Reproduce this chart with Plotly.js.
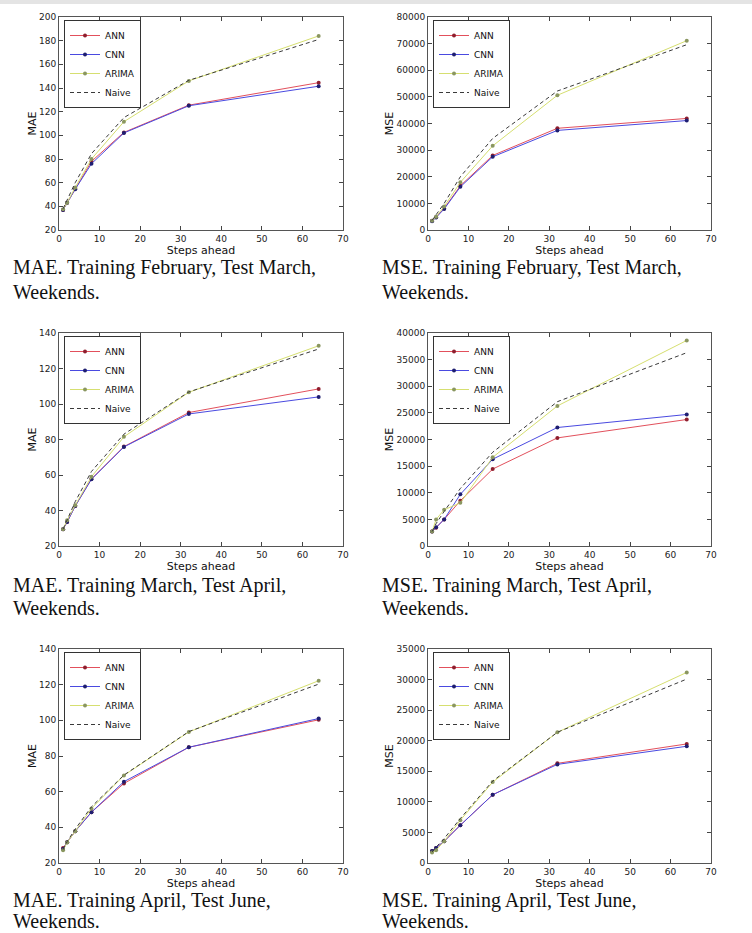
<!DOCTYPE html>
<html>
<head>
<meta charset="utf-8">
<script src="https://cdn.plot.ly/plotly-3.0.1.min.js"></script>
<style>
  html, body { margin: 0; padding: 0; background: #fff; }
  #plot { width: 752px; height: 933px; }
</style>
</head>
<body>
<div id="plot"></div>
<script>
// forecast horizons (x axis)
const steps = [1, 2, 4, 8, 16, 32, 64];
const seriesNames = ['ANN', 'CNN', 'ARIMA', 'Naive'];

// MAE, training February, test March
const maeFebAnn = [37, 43, 55, 78, 102.5, 125.5, 144.5];
const maeFebCnn = [37, 43, 54.5, 76, 102, 125, 141.5];
const maeFebArima = [37.5, 43, 56, 80, 111.5, 146, 184];
const maeFebNaive = [38, 45, 60, 84.5, 115, 146.5, 181];

// MSE, training February, test March
const mseFebAnn = [3500, 4800, 8100, 16600, 28000, 38200, 41900];
const mseFebCnn = [3300, 4700, 7900, 16200, 27500, 37400, 41100];
const mseFebArima = [3500, 5000, 8800, 17900, 31600, 50600, 71100];
const mseFebNaive = [3600, 5600, 10000, 20000, 34400, 52200, 69600];

// MAE, training March, test April
const maeMarAnn = [29.5, 33.5, 42.5, 57.8, 76, 95.2, 108.5];
const maeMarCnn = [29.5, 33.5, 42.5, 57.6, 75.8, 94.4, 104];
const maeMarArima = [29.5, 34.5, 43, 59, 81.5, 106.6, 132.8];
const maeMarNaive = [29.5, 35, 45, 62, 83, 106.8, 131];

// MSE, training March, test April
const mseMarAnn = [2700, 3450, 5000, 8500, 14450, 20300, 23750];
const mseMarCnn = [2700, 3500, 5000, 9700, 16300, 22250, 24700];
const mseMarArima = [2700, 5000, 6800, 8100, 16650, 26300, 38600];
const mseMarNaive = [2700, 4200, 6500, 10800, 17600, 27100, 36300];

// MAE, training April, test June
const maeAprAnn = [28.4, 31.6, 37.8, 48.5, 64.6, 84.9, 100.3];
const maeAprCnn = [27.9, 31.6, 37.8, 48.5, 65.6, 84.9, 101];
const maeAprArima = [27.1, 31.5, 37.8, 50.6, 69.1, 93.5, 122.2];
const maeAprNaive = [27.5, 32, 39, 51.5, 69.3, 93.7, 120.3];

// MSE, training April, test June
const mseAprAnn = [1970, 2460, 3550, 6180, 11160, 16300, 19470];
const mseAprCnn = [1970, 2460, 3550, 6180, 11160, 16130, 19090];
const mseAprArima = [1700, 2080, 3550, 7000, 13230, 21380, 31170];
const mseAprNaive = [1800, 2600, 4000, 7270, 13400, 21380, 30080];

const captionLines = [
  ['MAE. Training February, Test March,', 'Weekends.'],
  ['MSE. Training February, Test March,', 'Weekends.'],
  ['MAE. Training March, Test April,', 'Weekends.'],
  ['MSE. Training March, Test April,', 'Weekends.'],
  ['MAE. Training April, Test June,', 'Weekends.'],
  ['MSE. Training April, Test June,', 'Weekends.'],
];
const yTitles = ['MAE', 'MSE', 'MAE', 'MSE', 'MAE', 'MSE'];
const yRanges = [[20, 200], [0, 80000], [20, 140], [0, 40000], [20, 140], [0, 35000]];
const yTicks = [20, 10000, 20, 5000, 20, 5000];

const panels = [
  [maeFebAnn, maeFebCnn, maeFebArima, maeFebNaive],
  [mseFebAnn, mseFebCnn, mseFebArima, mseFebNaive],
  [maeMarAnn, maeMarCnn, maeMarArima, maeMarNaive],
  [mseMarAnn, mseMarCnn, mseMarArima, mseMarNaive],
  [maeAprAnn, maeAprCnn, maeAprArima, maeAprNaive],
  [mseAprAnn, mseAprCnn, mseAprArima, mseAprNaive],
];

const W = 752;
const H = 933;
// plot boxes in pixels: [left, right, top, bottom]
const boxes = [
  [59, 343, 17, 230], [428, 711, 17, 230],
  [59, 343, 333, 546], [428, 711, 333, 546],
  [59, 343, 649, 863], [428, 711, 649, 863],
];
// caption line centres, pixels below the plot bottom
const captionOffsets = [[37, 62], [37, 62], [39, 62], [39, 62], [37, 58], [37, 58]];

const lineColors = ['#e2505c', '#4a4ae0', '#d6df70', '#3a3a3a'];
const markerColors = ['#8e1e2e', '#1e1e70', '#8a9660', '#3a3a3a'];

const tickFont = { family: 'DejaVu Sans', size: 9, color: '#222' };
const titleFont = { family: 'DejaVu Sans', size: 11, color: '#111' };
const captionFont = { family: 'Liberation Serif', size: 20, color: '#111' };

const data = [];
const layout = {
  width: W,
  height: H,
  margin: { l: 0, r: 0, t: 0, b: 0 },
  paper_bgcolor: '#fff',
  plot_bgcolor: '#fff',
  annotations: [],
  shapes: [
    {
      type: 'rect', xref: 'paper', yref: 'paper',
      x0: 0, x1: 1, y0: 1 - 4 / H, y1: 1,
      fillcolor: '#e4e4e4', line: { width: 0 },
    },
  ],
};

panels.forEach((series, p) => {
  const n = p + 1;
  const suffix = n === 1 ? '' : String(n);
  const [left, right, top, bottom] = boxes[p];
  const legendId = n === 1 ? 'legend' : `legend${n}`;

  series.forEach((values, s) => {
    const naive = s === 3;
    data.push({
      x: steps,
      y: values,
      name: seriesNames[s],
      type: 'scatter',
      mode: naive ? 'lines' : 'lines+markers',
      xaxis: `x${suffix}`,
      yaxis: `y${suffix}`,
      legend: legendId,
      line: { color: lineColors[s], width: 1, dash: naive ? '4px,3px' : 'solid' },
      marker: { color: markerColors[s], size: 4 },
    });
  });

  layout[`xaxis${suffix}`] = {
    domain: [left / W, right / W],
    anchor: `y${suffix}`,
    range: [0, 70],
    dtick: 10,
    ticks: 'inside',
    ticklen: 4,
    tickcolor: '#444',
    showline: true,
    linecolor: '#555',
    linewidth: 1,
    mirror: 'ticks',
    showgrid: false,
    zeroline: false,
    tickfont: tickFont,
    automargin: false,
    title: { text: 'Steps ahead', font: titleFont, standoff: 2 },
  };
  layout[`yaxis${suffix}`] = {
    domain: [1 - bottom / H, 1 - top / H],
    anchor: `x${suffix}`,
    range: yRanges[p],
    dtick: yTicks[p],
    tickformat: 'd',
    ticks: 'inside',
    ticklen: 4,
    tickcolor: '#444',
    showline: true,
    linecolor: '#555',
    linewidth: 1,
    mirror: 'ticks',
    showgrid: false,
    zeroline: false,
    tickfont: tickFont,
    automargin: false,
    title: { text: yTitles[p], font: titleFont, standoff: 0 },
  };

  layout[legendId] = {
    x: (left + 5) / W,
    y: 1 - (top + 3) / H,
    xanchor: 'left',
    yanchor: 'top',
    bgcolor: '#fff',
    bordercolor: '#333',
    borderwidth: 1,
    font: { family: 'DejaVu Sans', size: 9, color: '#111' },
    itemwidth: 30,
    tracegroupgap: 0,
  };

  captionLines[p].forEach((line, k) => {
    layout.annotations.push({
      text: line,
      xref: 'paper',
      yref: 'paper',
      x: (p % 2 === 0 ? 12 : 381) / W,
      y: 1 - (bottom + captionOffsets[p][k]) / H,
      xanchor: 'left',
      yanchor: 'middle',
      align: 'left',
      showarrow: false,
      borderpad: 0,
      font: captionFont,
    });
  });
});

Plotly.newPlot('plot', data, layout, { displayModeBar: false, staticPlot: true });
</script>
</body>
</html>
